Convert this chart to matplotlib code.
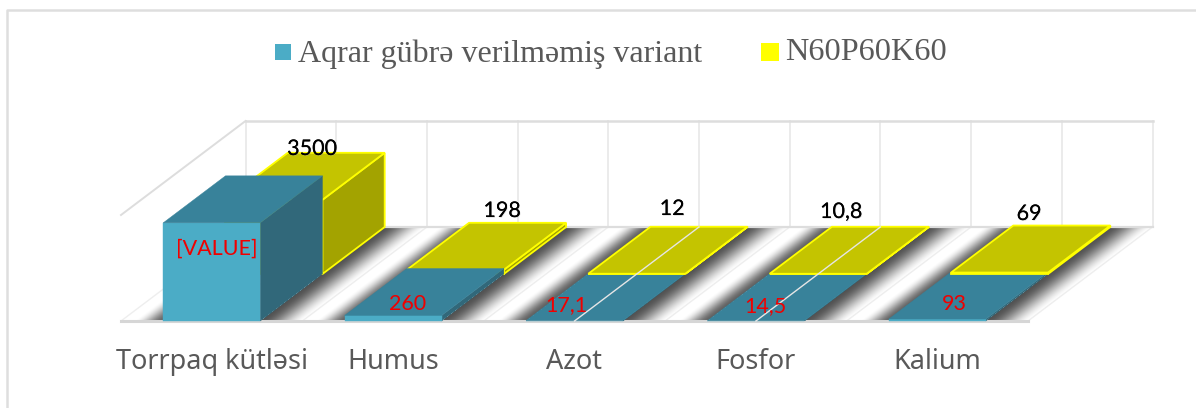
# -*- coding: utf-8 -*-
import numpy as np
import matplotlib
matplotlib.use('Agg')
import matplotlib.pyplot as plt
import matplotlib.patheffects as pe
from matplotlib.patches import Polygon, Rectangle

categories = ['Torrpaq kütləsi', 'Humus', 'Azot', 'Fosfor', 'Kalium']
series_names = ['Aqrar gübrə verilməmiş variant', 'N60P60K60']
no_fert = [4630, 260, 17.1, 14.5, 93]
npk = [3500, 198, 12, 10.8, 69]
no_fert_labels = ['[VALUE]', '260', '17,1', '14,5', '93']
npk_labels = ['3500', '198', '12', '10,8', '69']
axis_max = 5000

W, H = 1196, 408

# oblique box geometry in picture pixels
x0 = 121.0
floor_y = 321.0
cat_w = 181.4
bar_w = 97.0
depth_dx = 124.5
depth_dy = -94.0
wall_h = 106.0


def proj(cat, depth, val):
    """cat in category units, depth 0 (front) to 1 (back), val in data units"""
    x = x0 + cat * cat_w + depth * depth_dx
    y = floor_y + depth * depth_dy - val / axis_max * wall_h
    return x, y


def box(ax, c_left, c_right, d0, d1, val, front, top, side, edge=None, z=5):
    def face(pts, col):
        ax.add_patch(Polygon(pts, closed=True, facecolor=col, edgecolor=edge if edge else col,
                             linewidth=1.3 if edge else 0.3, joinstyle='miter', zorder=z))
    face([proj(c_right, d0, 0), proj(c_right, d1, 0), proj(c_right, d1, val), proj(c_right, d0, val)], side)
    face([proj(c_left, d0, 0), proj(c_right, d0, 0), proj(c_right, d0, val), proj(c_left, d0, val)], front)
    face([proj(c_left, d0, val), proj(c_right, d0, val), proj(c_right, d1, val), proj(c_left, d1, val)], top)


def smooth(a):
    a = np.clip(a, 0, 1)
    return a * a * (3 - 2 * a)


def floor_shadow(ax, margin):
    # soft shadow either side of the bars, worked out per pixel on the sheared floor
    ys, xs = np.mgrid[0:H, 0:W]
    depth = (ys + 0.5 - floor_y) / depth_dy
    c = (xs + 0.5 - x0 - depth * depth_dx) / cat_w
    on_floor = (depth >= 0) & (depth <= 1) & (c >= 0) & (c <= 5)
    dark = np.zeros((H, W))
    for i in range(len(categories)):
        left_px = (i + margin - c) * cat_w
        right_px = (c - (i + 1 - margin)) * cat_w
        dark = np.maximum(dark, np.where(left_px >= 0, 0.62 * (1 - smooth(left_px / 30)), 0))
        dark = np.maximum(dark, np.where(right_px >= 0, 0.68 * (1 - smooth(right_px / 44)), 0))
    rgba = np.zeros((H, W, 4))
    rgba[..., 3] = dark * on_floor
    ax.imshow(rgba, extent=(0, W, H, 0), zorder=2, interpolation='nearest', aspect='auto')


fig = plt.figure(figsize=(W / 100, H / 100), dpi=100)
ax = fig.add_axes([0, 0, 1, 1])

# wall and floor gridlines, every half category
for k in range(11):
    c = k / 2
    bx, by = proj(c, 1, 0)
    tx, ty = proj(c, 1, axis_max)
    ax.plot([bx, tx], [by, ty], color='#e9e9e9', lw=1.3, zorder=1)
    fx, fy = proj(c, 0, 0)
    ax.plot([fx, bx], [fy, by], color='#eeeeee', lw=1.0, zorder=1)

tlx, tly = proj(0, 1, axis_max)
trx, try_ = proj(5, 1, axis_max)
ax.plot([tlx, trx], [tly, try_], color='#dddddd', lw=1.8, zorder=1)
flx, fly = proj(0, 0, axis_max)
ax.plot([flx, tlx], [fly, tly], color='#dddddd', lw=1.4, zorder=1)

margin = (1 - bar_w / cat_w) / 2
floor_shadow(ax, margin)

ax.set_xlim(0, W)
ax.set_ylim(H, 0)
ax.axis('off')

# outer frame, only top and left show
ax.plot([7, 7, W], [H, 10, 10], color='#dedede', lw=1.8, zorder=0)

bx0, by0 = proj(0, 1, 0)
bx1, by1 = proj(5, 1, 0)
ax.plot([bx0, bx1], [by0, by1], color='#dddddd', lw=1.6, zorder=3)
fx0, fy0 = proj(0, 0, 0)
fx1, fy1 = proj(5, 0, 0)
ax.plot([fx0, fx1], [fy0, fy1], color='#d6d6d6', lw=2.2, zorder=3)

# bars, back series first
for i in range(len(categories)):
    l, r = i + margin, i + 1 - margin
    # the yellow front edge stays visible when both bars are almost the same height
    z_back = 7 if no_fert[i] - npk[i] < 50 else 5
    box(ax, l, r, 0.0, 0.5, no_fert[i], '#4bacc6', '#38829a', '#31687a', z=6)
    box(ax, l, r, 0.5, 1.0, npk[i], '#ffff00', '#c4c400', '#a3a300', edge='#ffff00', z=z_back)

# gridlines that show through the two flattest bars
for i in [2, 3]:
    ax.plot(*zip(proj(i + 0.5, 0, 0), proj(i + 0.5, 1, 0)), color='#e6e6e6', lw=1.0, zorder=8)

# value labels
lab_font = ['Lato', 'DejaVu Sans']
npk_pos = [(312, 149), (502, 211), (672, 209), (841, 212), (1029, 214)]
no_fert_pos = [(217, 249), (408, 304), (566, 305), (765, 306), (954, 304)]
for s, (x, y) in zip(npk_labels, npk_pos):
    ax.text(x, y, s, color='black', fontsize=15.5, family=lab_font, ha='center', va='center', zorder=9,
            path_effects=[pe.withSimplePatchShadow(offset=(0.5, -0.5), shadow_rgbFace='#aaaaaa', alpha=0.4), pe.Normal()])
for s, (x, y) in zip(no_fert_labels, no_fert_pos):
    ax.text(x, y, s, color='#f00000', fontsize=15.5, family=lab_font, ha='center', va='center', zorder=9)

# category labels
cat_pos = [211.5, 393, 574, 756, 937]
for s, x in zip(categories, cat_pos):
    ax.text(x, 362, s, color='#595959', fontsize=19.5, family=['Noto Sans', 'DejaVu Sans'], ha='center', va='center', zorder=9)

# legend
ax.add_patch(Rectangle((275, 44), 16, 16, facecolor='#4bacc6', edgecolor='none', zorder=9))
ax.add_patch(Rectangle((761, 43), 18, 18, facecolor='#ffff00', edgecolor='none', zorder=9))
ax.text(298, 54, series_names[0], color='#595959', fontsize=23, family=['Liberation Serif', 'DejaVu Serif'], ha='left', va='center', zorder=9)
ax.text(785, 52, series_names[1], color='#595959', fontsize=23.3, family=['Liberation Serif', 'DejaVu Serif'], ha='left', va='center', zorder=9)

fig.savefig('out.png', dpi=100)
